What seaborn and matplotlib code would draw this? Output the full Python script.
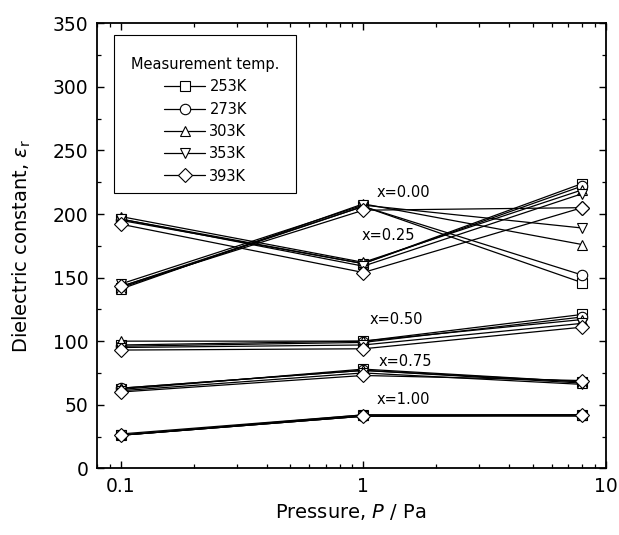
import pandas as pd
import seaborn as sns
import matplotlib.pyplot as plt
from matplotlib.lines import Line2D
from matplotlib.patches import Rectangle
from matplotlib.ticker import MultipleLocator, FixedLocator, FixedFormatter, LogLocator, NullFormatter

# pressures (Pa) at which each sample was measured
pressure = [0.1, 1, 8]
temps = ["253K", "273K", "303K", "353K", "393K"]
temp_markers = ["s", "o", "^", "v", "D"]
comps = ["x=0.00", "x=0.25", "x=0.50", "x=0.75", "x=1.00"]

# dielectric constant, one row per temperature (253K .. 393K)
eps_000 = [[142, 206, 146], [143, 206, 152], [141, 208, 176], [145, 207, 189], [143, 203, 205]]
eps_025 = [[196, 161, 224], [195, 161, 222], [198, 162, 219], [196, 159, 216], [192, 154, 205]]
eps_050 = [[97, 100, 121], [96, 99, 119], [100, 100, 117], [95, 97, 114], [93, 94, 111]]
eps_075 = [[62, 78, 68], [63, 77, 68], [63, 77, 67], [61, 75, 66], [60, 73, 69]]
eps_100 = [[26, 42, 42], [26, 41, 42], [27, 42, 42], [26, 41, 41], [26, 41, 42]]

# label positions (pressure, eps)
label_x = [1.135, 0.984, 1.06, 1.155, 1.135]
label_y = [217, 183, 117, 84, 54]

rows = []
for comp, table in zip(comps, [eps_000, eps_025, eps_050, eps_075, eps_100]):
    for temp, vals in zip(temps, table):
        for p, v in zip(pressure, vals):
            rows.append((comp, temp, p, v))
df = pd.DataFrame(rows, columns=["comp", "temp", "P", "eps"])

sns.set_style("ticks")
plt.rcParams["font.family"] = ["DejaVu Sans"]
plt.rcParams["mathtext.fontset"] = "dejavusans"
for k in ["text.color", "axes.labelcolor", "xtick.color", "ytick.color"]:
    plt.rcParams[k] = "black"

fig = plt.figure(figsize=(6.19, 5.35), dpi=100)
ax = fig.add_axes([0.156, 0.1247, 0.8225, 0.8317])

lw, ms, mew = 0.9, 7.5, 0.8
sns.lineplot(data=df, x="P", y="eps", style="temp", units="comp", estimator=None,
             markers=dict(zip(temps, temp_markers)), dashes=False, color="black",
             lw=lw, ms=ms, markerfacecolor="white", markeredgecolor="black",
             markeredgewidth=mew, legend=False, ax=ax)

ax.set_xscale("log")
ax.set_xlim(0.0794, 10)
ax.set_ylim(0, 350)
ax.xaxis.set_major_locator(FixedLocator([0.1, 1, 10]))
ax.xaxis.set_major_formatter(FixedFormatter(["0.1", "1", "10"]))
ax.xaxis.set_minor_locator(LogLocator(base=10, subs=[2, 3, 4, 5, 6, 7, 8, 9]))
ax.xaxis.set_minor_formatter(NullFormatter())
ax.yaxis.set_major_locator(MultipleLocator(50))
ax.yaxis.set_minor_locator(MultipleLocator(25))

ax.tick_params(which="both", direction="in", top=True, right=True)
ax.tick_params(which="major", length=5, width=1.0, labelsize=13.5, pad=6)
ax.tick_params(which="minor", length=3, width=0.9)
for s in ax.spines.values():
    s.set_linewidth(1.3)
    s.set_color("black")

ax.set_xlabel("Pressure, $P$ / Pa", fontsize=14)
ax.set_ylabel("Dielectric constant, $\\varepsilon_\\mathrm{r}$", fontsize=14)
ax.xaxis.set_label_coords(0.5, -0.075)
ax.yaxis.set_label_coords(-0.125, 0.5)

for txt, x, y in zip(comps, label_x, label_y):
    ax.text(x, y, txt, fontsize=10.5, ha="left", va="center")

# legend box drawn separately so its padding matches the original
ax.add_patch(Rectangle((0.035, 0.618), 0.356, 0.356, transform=ax.transAxes,
                       facecolor="white", edgecolor="black", lw=0.8, zorder=4))
handles = [Line2D([], [], color="black", lw=lw, marker=m, ms=ms, mfc="white",
                  mec="black", mew=mew) for m in temp_markers]
leg = ax.legend(handles, temps, title="Measurement temp.", loc="upper center",
                bbox_to_anchor=(0.214, 0.924), borderaxespad=0, borderpad=0,
                frameon=False, fontsize=10.5, title_fontsize=10.5,
                handlelength=2.8, handletextpad=0.3, labelspacing=0.5)
leg.set_zorder(5)

plt.savefig("out.png", dpi=100)
